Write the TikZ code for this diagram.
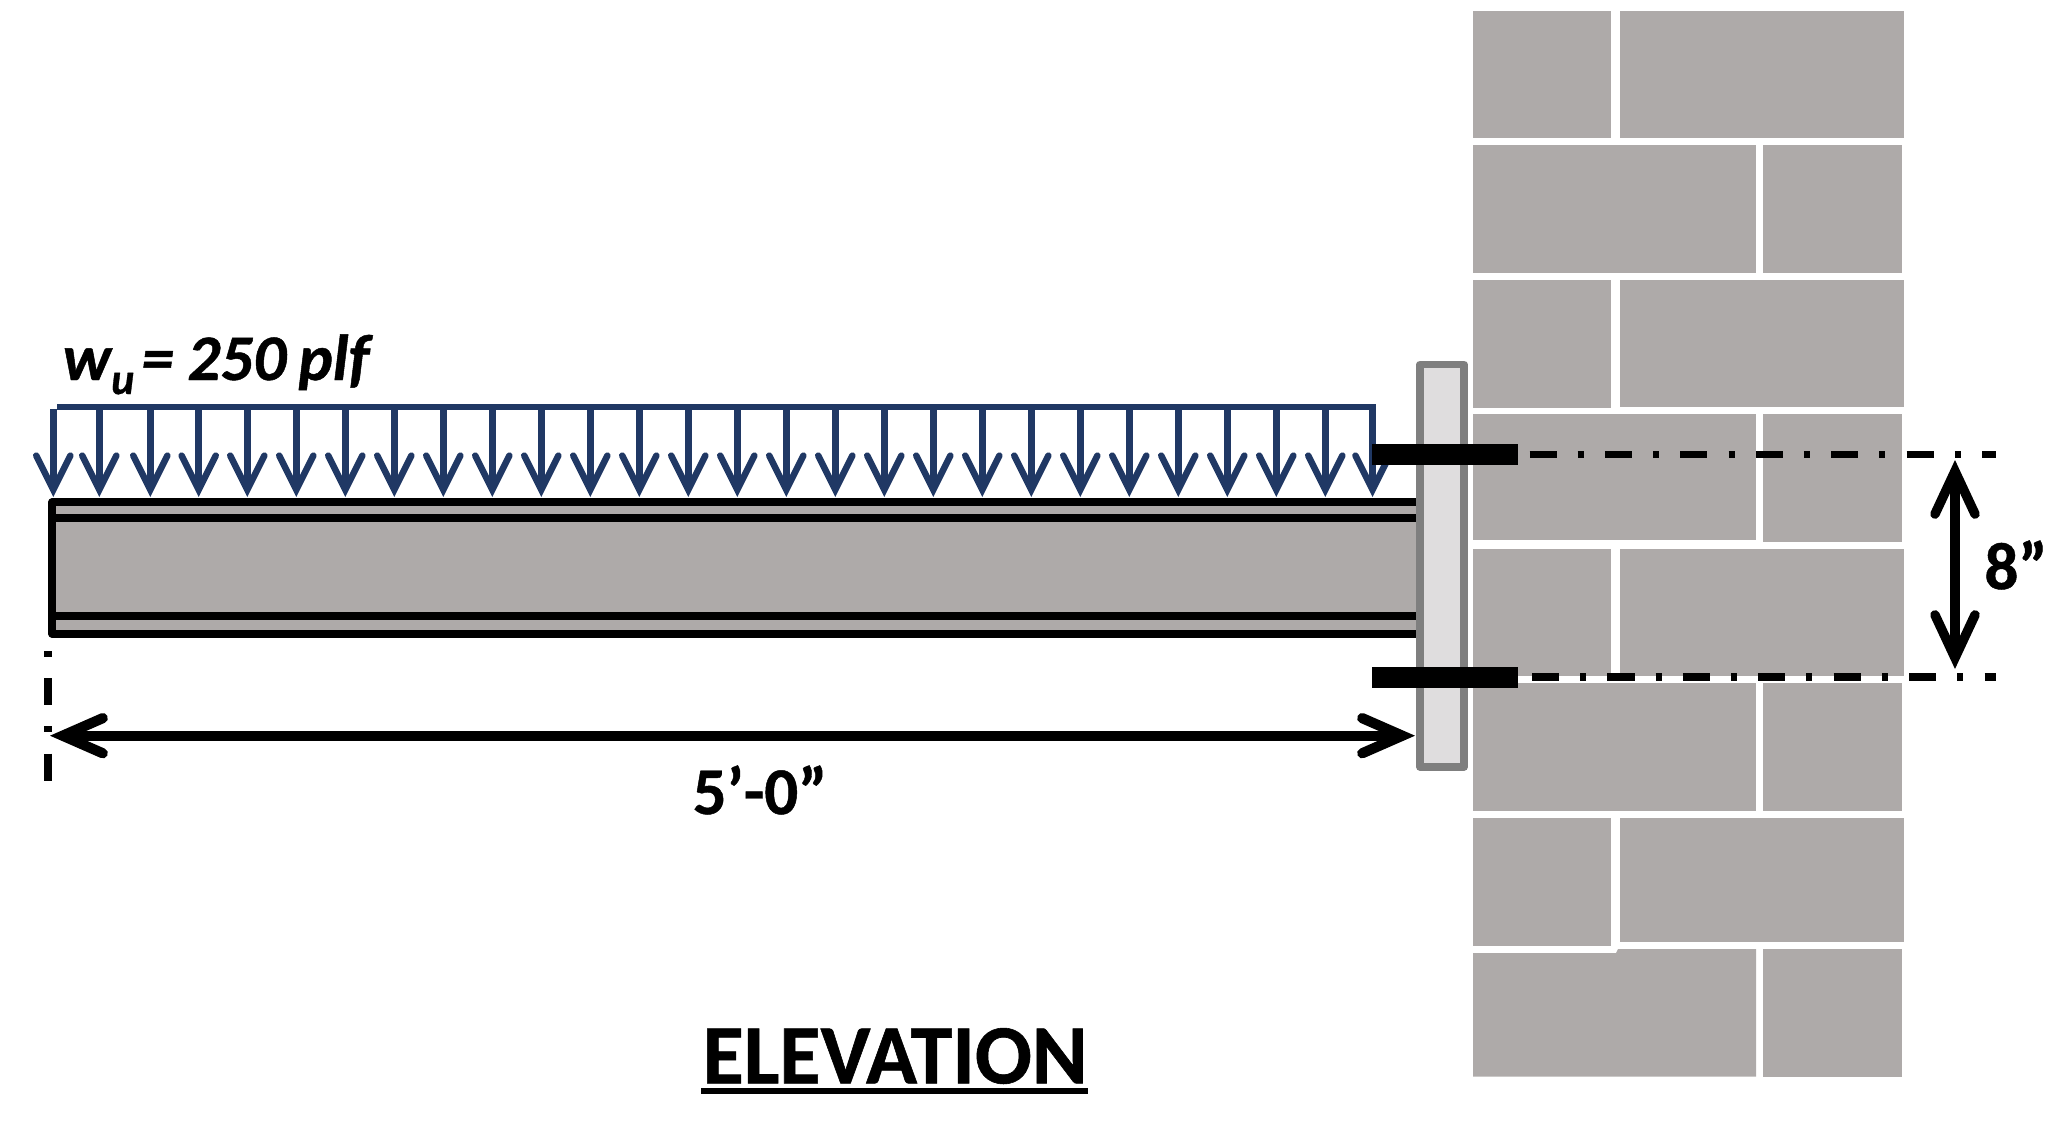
\documentclass[tikz,border=0pt]{standalone}
\usepackage{fontspec}
\setmainfont{Carlito}[BoldFeatures={FakeBold=0.7},BoldItalicFeatures={FakeBold=0.7}]
\usetikzlibrary{arrows.meta}
\definecolor{brickgray}{HTML}{AEAAA9}
\definecolor{platefill}{HTML}{DFDDDE}
\definecolor{plateedge}{HTML}{7F7F7F}
\definecolor{loadblue}{HTML}{203864}
\tikzset{
    brick/.style={fill=brickgray},
    beamline/.style={line width=2pt,black,line join=round},
    boltbar/.style={fill=black},
    centerline/.style={line width=2.1pt,dash pattern=on 7.7pt off 6pt on 1.7pt off 6.05pt},
    loadline/.style={line width=1.9pt,loadblue},
    loadarrow/.style={line width=1.85pt,loadblue,-{Straight Barb[length=9.7pt,width=9.7pt,line cap=round,line join=miter]}},
    dimarrow/.style={line width=2.9pt,{Straight Barb[length=11.4pt,width=10pt,line cap=round,line join=miter]}-{Straight Barb[length=11.4pt,width=10pt,line cap=round,line join=miter]}},
    riseroarrow/.style={line width=2.7pt,{Straight Barb[length=12.2pt,width=11.4pt,line cap=round,line join=miter]}-{Straight Barb[length=12.2pt,width=11.4pt,line cap=round,line join=miter]}},
    dimlabel/.style={font=\bfseries\fontsize{19}{19}\selectfont,inner sep=0pt},
}
\begin{document}
\begin{tikzpicture}[x=0.01cm,y=-0.01cm]
    \useasboundingbox (0,0) rectangle (2071,1136);

    % masonry wall
    \fill[brick] (1473,11)  rectangle (1611,137.5);
    \fill[brick] (1620,11)  rectangle (1904,137.5);
    \fill[brick] (1473,145) rectangle (1756,272.5);
    \fill[brick] (1763,145) rectangle (1902,272.5);
    \fill[brick] (1473,280) rectangle (1611,407.5);
    \fill[brick] (1620,280) rectangle (1904,406.5);
    \fill[brick] (1473,414) rectangle (1756,540);
    \fill[brick] (1763,414) rectangle (1902,541.5);
    \fill[brick] (1473,549) rectangle (1611,676);
    \fill[brick] (1620,549) rectangle (1904,675.5);
    \fill[brick] (1473,683) rectangle (1756,810.5);
    \fill[brick] (1763,683) rectangle (1902,810.5);
    \fill[brick] (1473,818) rectangle (1611,945.5);
    \fill[brick] (1620,818) rectangle (1904,941.5);
    \fill[brick] (1473,953) -- (1616,953) -- (1618,949) -- (1756,949) -- (1756,1076.5) -- (1473,1076.5) -- cycle;
    \fill[brick] (1763,949) rectangle (1902,1076.5);

    % beam
    \fill[brick] (52,502) rectangle (1417,634);
    \draw[beamline] (1417,502) -- (52,502) -- (52,634) -- (1417,634);
    \draw[beamline] (52,518) -- (1417,518);
    \draw[beamline] (52,616) -- (1417,616);

    % uniform load
    \coordinate (w0) at (57,407);
    \coordinate (w1) at (1376,407);
    \draw[loadline] (w0) -- (w1);
    \coordinate (t1)  at (53.3,409);   \coordinate (b1)  at (53.3,497);
    \coordinate (t2)  at (99.3,409);   \coordinate (b2)  at (99.3,497);
    \coordinate (t3)  at (150.3,409);  \coordinate (b3)  at (150.3,497);
    \coordinate (t4)  at (198.7,409);  \coordinate (b4)  at (198.7,497);
    \coordinate (t5)  at (247.3,409);  \coordinate (b5)  at (247.3,497);
    \coordinate (t6)  at (296.3,409);  \coordinate (b6)  at (296.3,497);
    \coordinate (t7)  at (345.3,409);  \coordinate (b7)  at (345.3,497);
    \coordinate (t8)  at (394.3,409);  \coordinate (b8)  at (394.3,497);
    \coordinate (t9)  at (443.3,409);  \coordinate (b9)  at (443.3,497);
    \coordinate (t10) at (492.3,409);  \coordinate (b10) at (492.3,497);
    \coordinate (t11) at (541.3,409);  \coordinate (b11) at (541.3,497);
    \coordinate (t12) at (590.3,409);  \coordinate (b12) at (590.3,497);
    \coordinate (t13) at (639.3,409);  \coordinate (b13) at (639.3,497);
    \coordinate (t14) at (688.3,409);  \coordinate (b14) at (688.3,497);
    \coordinate (t15) at (737.3,409);  \coordinate (b15) at (737.3,497);
    \coordinate (t16) at (786.3,409);  \coordinate (b16) at (786.3,497);
    \coordinate (t17) at (835.3,409);  \coordinate (b17) at (835.3,497);
    \coordinate (t18) at (884.3,409);  \coordinate (b18) at (884.3,497);
    \coordinate (t19) at (933.3,409);  \coordinate (b19) at (933.3,497);
    \coordinate (t20) at (982.3,409);  \coordinate (b20) at (982.3,497);
    \coordinate (t21) at (1031.3,409); \coordinate (b21) at (1031.3,497);
    \coordinate (t22) at (1080.3,409); \coordinate (b22) at (1080.3,497);
    \coordinate (t23) at (1129.3,409); \coordinate (b23) at (1129.3,497);
    \coordinate (t24) at (1178.3,409); \coordinate (b24) at (1178.3,497);
    \coordinate (t25) at (1227.3,409); \coordinate (b25) at (1227.3,497);
    \coordinate (t26) at (1276.3,409); \coordinate (b26) at (1276.3,497);
    \coordinate (t27) at (1325.3,409); \coordinate (b27) at (1325.3,497);
    \coordinate (t28) at (1372.5,409); \coordinate (b28) at (1372.5,497);

    \path [loadarrow] (t1) edge (b1);
    \path [loadarrow] (t2) edge (b2);
    \path [loadarrow] (t3) edge (b3);
    \path [loadarrow] (t4) edge (b4);
    \path [loadarrow] (t5) edge (b5);
    \path [loadarrow] (t6) edge (b6);
    \path [loadarrow] (t7) edge (b7);
    \path [loadarrow] (t8) edge (b8);
    \path [loadarrow] (t9) edge (b9);
    \path [loadarrow] (t10) edge (b10);
    \path [loadarrow] (t11) edge (b11);
    \path [loadarrow] (t12) edge (b12);
    \path [loadarrow] (t13) edge (b13);
    \path [loadarrow] (t14) edge (b14);
    \path [loadarrow] (t15) edge (b15);
    \path [loadarrow] (t16) edge (b16);
    \path [loadarrow] (t17) edge (b17);
    \path [loadarrow] (t18) edge (b18);
    \path [loadarrow] (t19) edge (b19);
    \path [loadarrow] (t20) edge (b20);
    \path [loadarrow] (t21) edge (b21);
    \path [loadarrow] (t22) edge (b22);
    \path [loadarrow] (t23) edge (b23);
    \path [loadarrow] (t24) edge (b24);
    \path [loadarrow] (t25) edge (b25);
    \path [loadarrow] (t26) edge (b26);
    \path [loadarrow] (t27) edge (b27);
    \path [loadarrow] (t28) edge (b28);

    % plate and bolts
    \draw[line width=2.1pt,draw=plateedge,fill=platefill,line join=round] (1420,364.5) rectangle (1464,767);
    \fill[boltbar] (1372,444) rectangle (1517.5,464.5);
    \fill[boltbar] (1372,667) rectangle (1517.5,687.5);

    % bolt centerlines
    \coordinate (c1) at (1529.5,454.3);
    \coordinate (c2) at (1996,454.3);
    \coordinate (c3) at (1532,677);
    \coordinate (c4) at (1996,677);
    \draw[centerline] (c1) -- (c2);
    \draw[centerline] (c3) -- (c4);

    % span dimension
    \coordinate (e1) at (48,651);
    \coordinate (e2) at (48,782);
    \draw[centerline,dash phase=13.7pt] (e1) -- (e2);
    \coordinate (s1) at (50,735.7);
    \coordinate (s2) at (1415,735.7);
    \draw[dimarrow] (s1) -- (s2);
    \node[dimlabel] (span) at (760,790) {5’-0”};

    % bolt spacing
    \coordinate (h1) at (1955,460);
    \coordinate (h2) at (1955,669);
    \draw[riseroarrow] (h1) -- (h2);
    \node[dimlabel] (spacing) at (2016,565) {8”};

    % labels
    \node[font=\bfseries\itshape\fontsize{18.5}{18.5}\selectfont,inner sep=0pt,anchor=base west] (load) at (62,380) {w{\fontsize{12.5}{12.5}\selectfont\raisebox{-4pt}{u}}\hspace{2pt}=\hspace{3.9pt}250\hspace{3.4pt}plf};
    \node[font=\bfseries\fontsize{24}{24}\selectfont,inner sep=0pt] (title) at (895,1056) {ELEVATION};
    \coordinate (u1) at (701,1091);
    \coordinate (u2) at (1088,1091);
    \draw[line width=1.5pt] (u1) -- (u2);
\end{tikzpicture}
\end{document}
